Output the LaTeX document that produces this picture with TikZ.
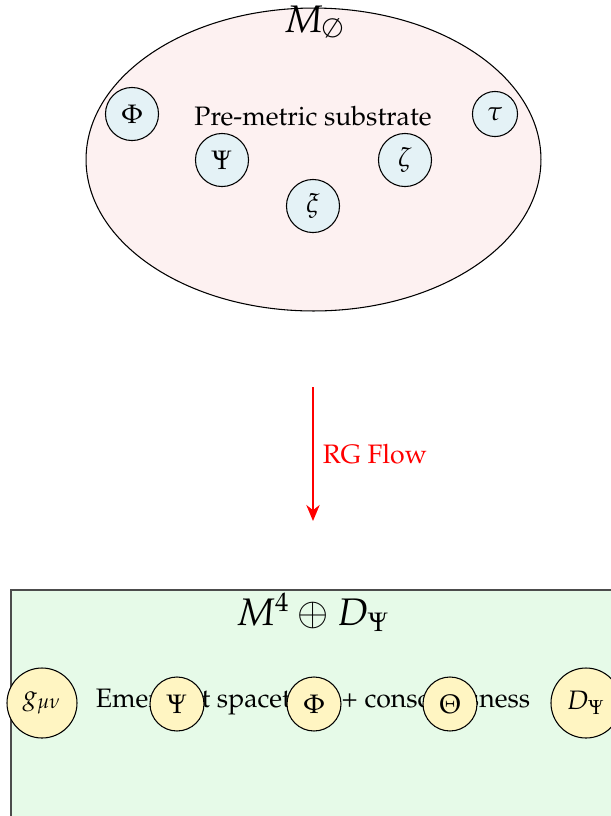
\documentclass[tikz,border=0pt]{standalone}
\usepackage[T1]{fontenc}
\usepackage{mathpazo}
\usetikzlibrary{arrows.meta, shapes.geometric}

\definecolor{substratepink}{RGB}{253,241,241}
\definecolor{fieldblue}{RGB}{228,242,246}
\definecolor{emergegreen}{RGB}{230,250,232}
\definecolor{emergeyellow}{RGB}{255,245,194}

\tikzset{
  field/.style={circle, draw, fill=fieldblue, inner sep=0pt, minimum size=19.9pt},
  emergent/.style={circle, draw, fill=emergeyellow, inner sep=0pt, minimum size=20.25pt},
}

\begin{document}
\begin{tikzpicture}[x=0.375pt, y=-0.375pt]
\path[use as bounding box, clip] (0,0) rectangle (611,816);
% pre-metric substrate
\node[ellipse, draw, fill=substratepink, minimum width=170.6pt, minimum height=113.6pt] (substrate) at (313.5,159.5) {};
\node (subtitle) at (314,22) {\Large $M_\emptyset$};
\node (subtext) at (313,116) {Pre-metric substrate};
\node[field] (phi) at (132,114) {$\Phi$};
\node[field] (psi) at (222,160) {$\Psi$};
\node[field] (xi) at (313,206) {$\xi$};
\node[field] (zeta) at (405,160) {$\zeta$};
\node[field, minimum size=16.9pt] (tau) at (495,114) {$\tau$};
% flow
\coordinate (flowtop) at (313,387);
\coordinate (flowbot) at (313,521);
\draw[-{Stealth[length=6pt, width=5pt]}, line width=0.7pt, red] (flowtop) -- (flowbot)
  node[midway, right, red] {RG Flow};
% emergent spacetime box
\draw[black!70, fill=emergegreen] (11,590) rectangle (660,860);
\node (emtitle) at (313,612) {\Large $M^4 \oplus D_\Psi$};
\node (emtext) at (313,702) {Emergent spacetime + consciousness};
\node[emergent, minimum size=26.25pt] (metric) at (42,703) {$g_{\mu\nu}$};
\node[emergent] (psib) at (177,704) {$\Psi$};
\node[emergent] (phib) at (314,704) {$\Phi$};
\node[emergent] (theta) at (450,704) {$\Theta$};
\node[emergent, minimum size=26.25pt] (dpsi) at (586,703) {$D_\Psi$};
\end{tikzpicture}
\end{document}
